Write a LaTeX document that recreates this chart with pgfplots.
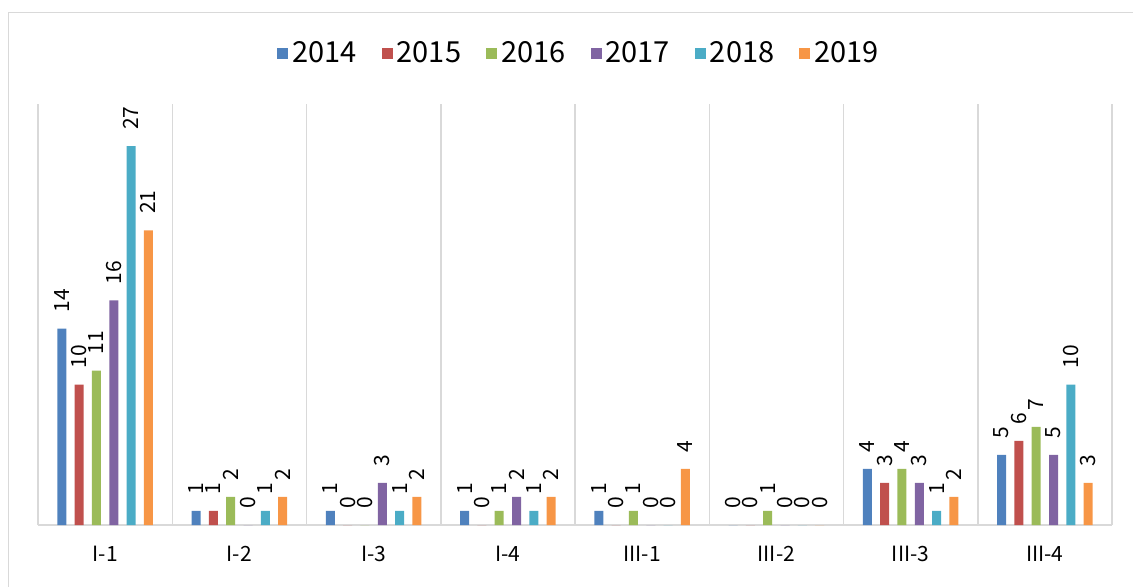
\documentclass[border=0pt]{standalone}
\usepackage{pgfplots}
\pgfplotsset{compat=1.18}
\usepackage{pgfplotstable}
\usepackage{fontspec}
\setmainfont{Noto Sans CJK JP}
\definecolor{c1}{HTML}{4F81BD}
\definecolor{c2}{HTML}{C0504D}
\definecolor{c3}{HTML}{9BBB59}
\definecolor{c4}{HTML}{8064A2}
\definecolor{c5}{HTML}{4BACC6}
\definecolor{c6}{HTML}{F79646}
\definecolor{gridc}{HTML}{D9D9D9}
\pgfplotstableread{
x y14 y15 y16 y17 y18 y19
0 14 10 11 16 27 21
1 1 1 2 0 1 2
2 1 0 0 3 1 2
3 1 0 1 2 1 2
4 1 0 1 0 0 4
5 0 0 1 0 0 0
6 4 3 4 3 1 2
7 5 6 7 5 10 3
}\data
\begin{document}
\begin{tikzpicture}
\begin{axis}[
  scale only axis, width=537pt, height=210.5pt,
  xmin=-0.5, xmax=7.5, ymin=0, ymax=30,
  ybar=4.15pt, bar width=4.5pt,
  axis y line=none, axis x line*=bottom,
  x axis line style={draw=gridc, line width=0.75pt},
  xtick={0,...,7},
  xticklabels={I-1,I-2,I-3,I-4,III-1,III-2,III-3,III-4},
  xtick style={draw=none},
  major tick length=0pt, minor tick length=0pt,
  minor xtick={-0.5,0.5,...,7.5}, xminorgrids,
  minor grid style={draw=gridc, line width=0.75pt},
  xticklabel style={font=\fontsize{10.5}{12}\selectfont, yshift=-7pt},
  /pgf/number format/assume math mode=true,
  nodes near coords,
  every node near coord/.append style={rotate=90, anchor=west, inner sep=0pt, inner xsep=8pt, font=\fontsize{10.5}{12}\selectfont, text=black},
  legend columns=6,
  legend style={draw=none, at={(0.5047,1)}, anchor=center, yshift=25.5pt,
    font=\fontsize{14.5}{17}\selectfont,
    /tikz/every even column/.append style={column sep=10.5pt}},
  legend image code/.code={\fill[#1] (0pt,-2.75pt) rectangle (5.5pt,2.75pt);},
]
\addplot[fill=c1, draw=none] table[x=x, y=y14] {\data};
\addplot[fill=c2, draw=none] table[x=x, y=y15] {\data};
\addplot[fill=c3, draw=none] table[x=x, y=y16] {\data};
\addplot[fill=c4, draw=none] table[x=x, y=y17] {\data};
\addplot[fill=c5, draw=none] table[x=x, y=y18] {\data};
\addplot[fill=c6, draw=none] table[x=x, y=y19] {\data};
\legend{2014,2015,2016,2017,2018,2019}
\end{axis}
\draw[gridc, line width=0.75pt] (-14.75pt,-40pt) rectangle (570pt,256.25pt);
\pgfresetboundingbox
\useasboundingbox (-19pt,-30.5pt) rectangle (547.5pt,262.5pt);
\end{tikzpicture}
\end{document}
